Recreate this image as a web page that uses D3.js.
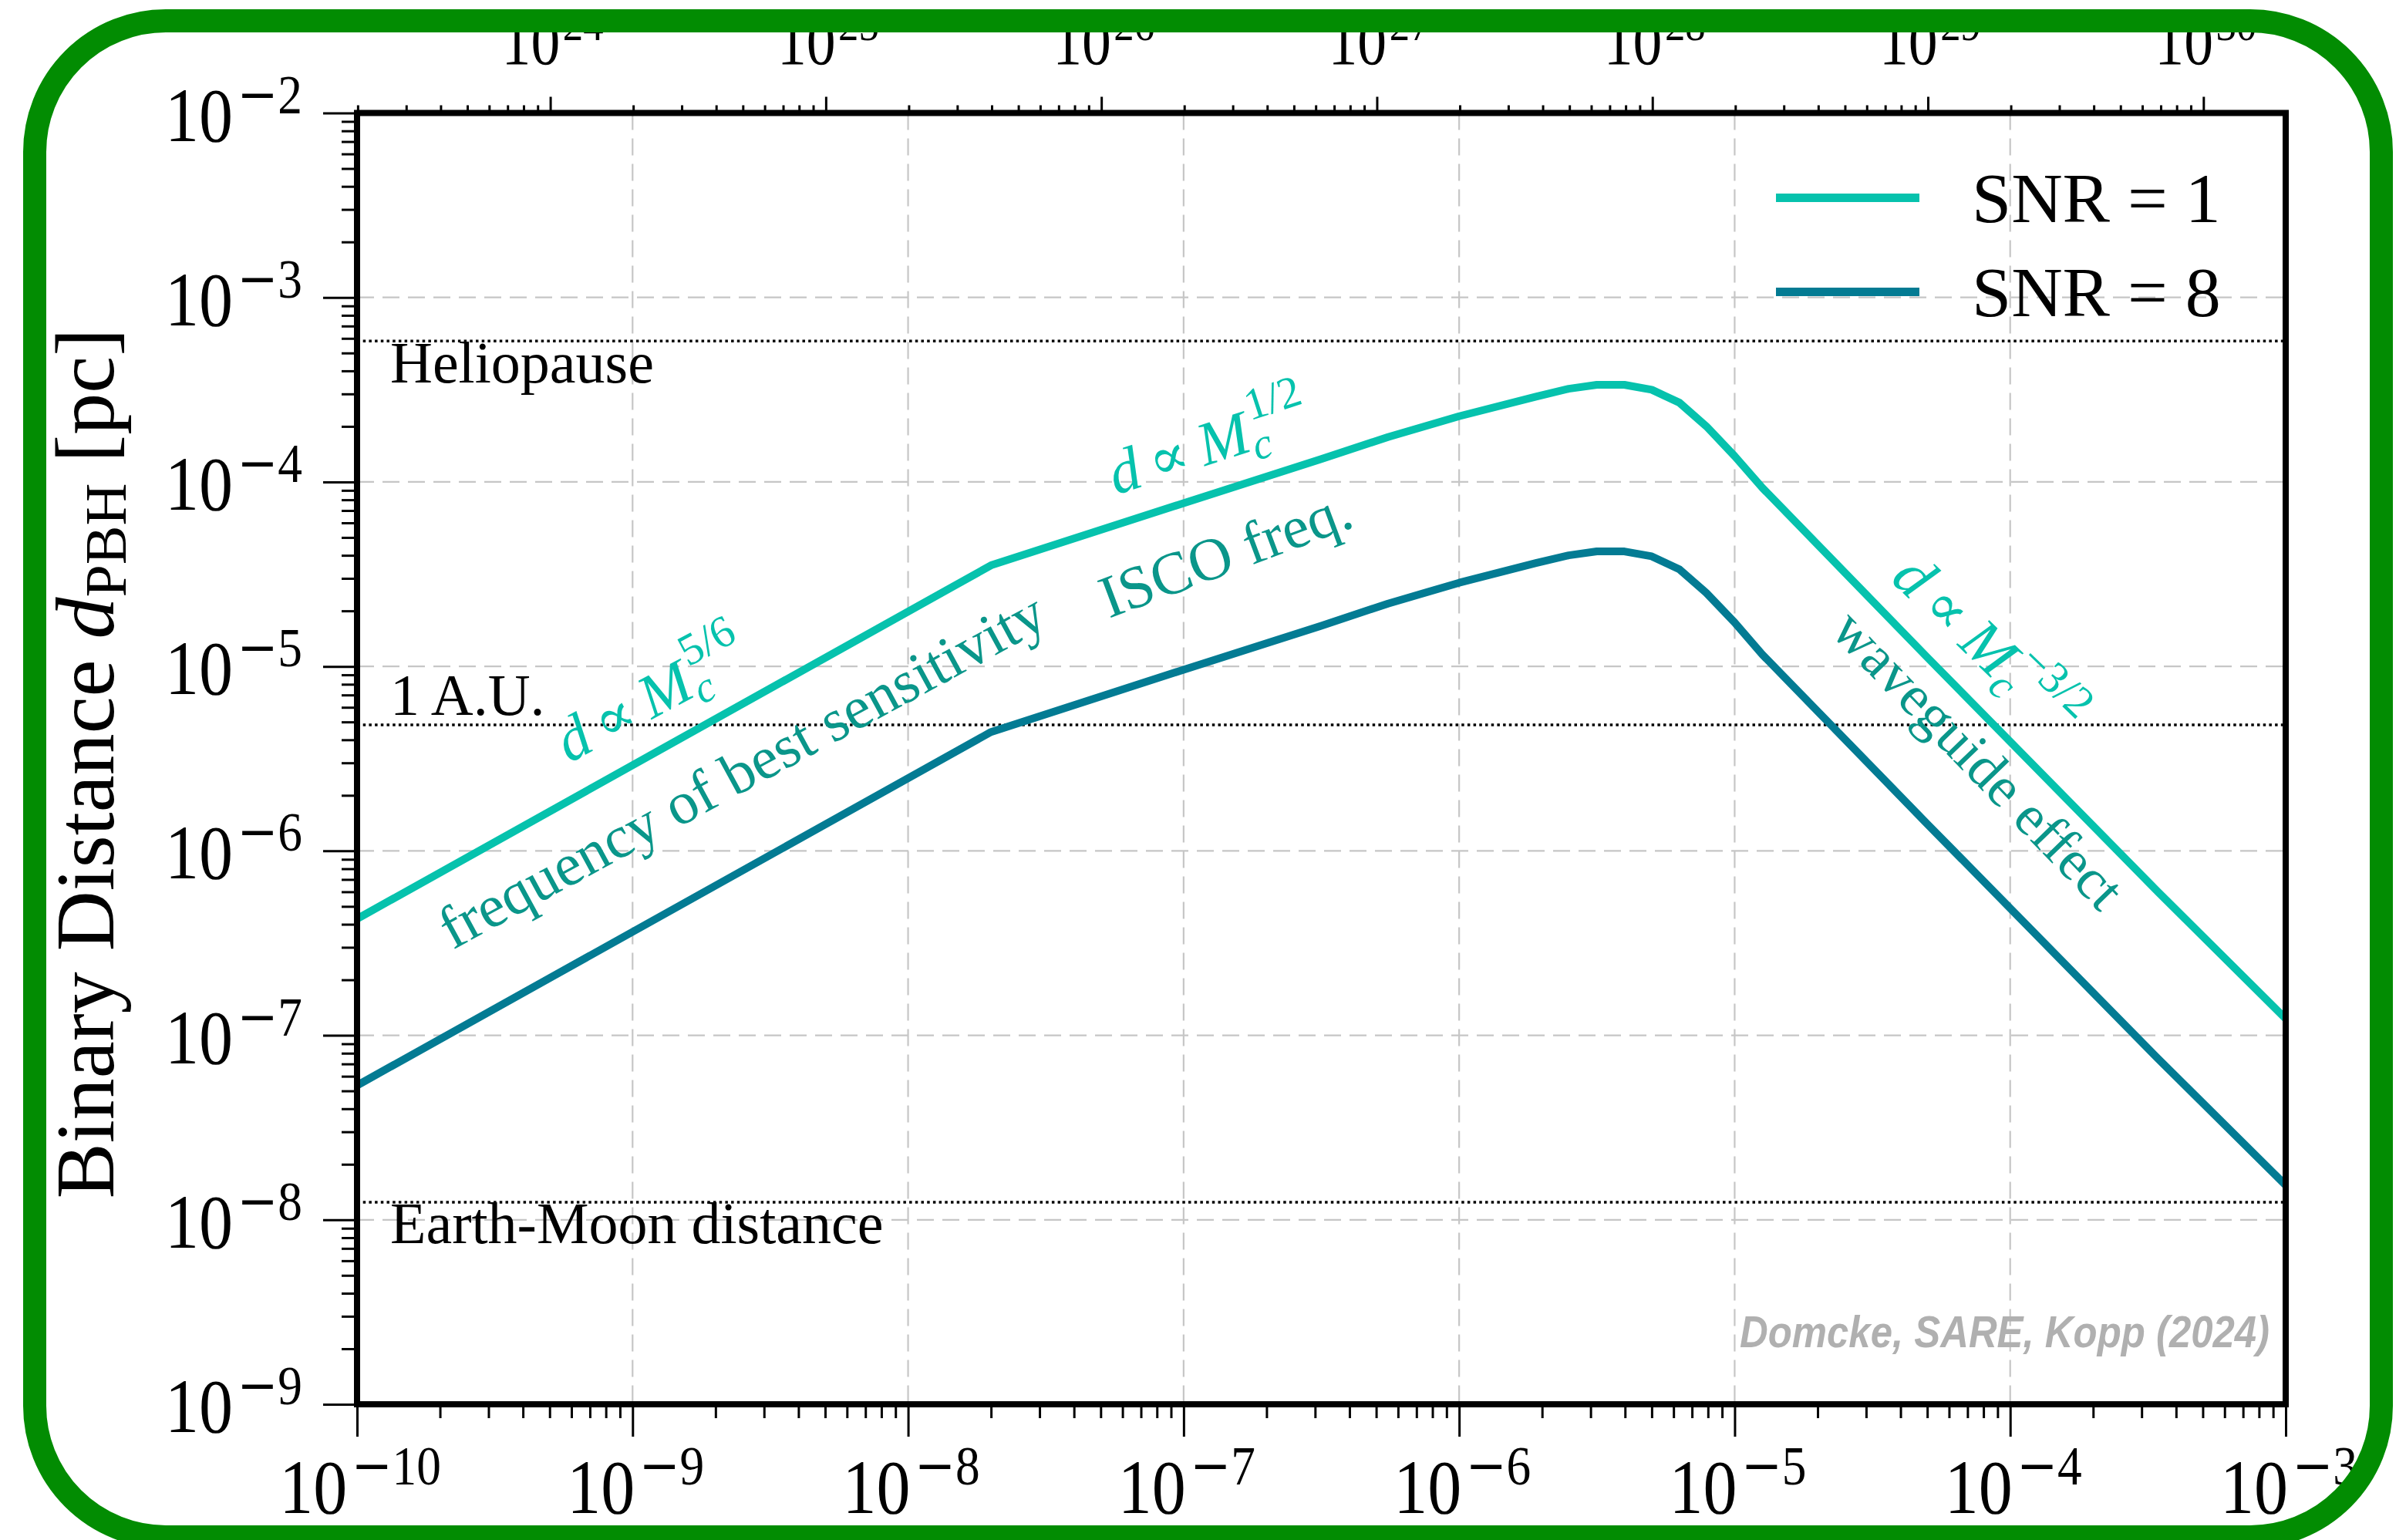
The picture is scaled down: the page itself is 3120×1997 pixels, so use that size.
<!DOCTYPE html>
<html>
<head>
<meta charset="utf-8">
<script src="https://cdn.jsdelivr.net/npm/d3@7"></script>
<style>
  html, body { margin: 0; padding: 0; background: #fff; }
  svg { display: block; }
  text { font-family: "Liberation Serif", "DejaVu Serif", serif; }
  .credit { font-family: "Liberation Sans", Arial, sans-serif; }
  .wide { font-family: "DejaVu Serif", serif; }
</style>
</head>
<body>
<svg id="chart" width="3120" height="1997"></svg>
<script>
// chirp mass (bottom axis, solar masses)
const mass = [1e-10, 2e-8, 1e-7, 3.16e-7, 5.52e-7, 1e-6, 1.9e-6, 2.5e-6, 3.16e-6, 3.98e-6,
              5.0e-6, 6.3e-6, 7.9e-6, 1.0e-5, 1.26e-5, 5.0e-5, 3.4e-4, 1e-3];
// binary distance in pc
const distSnr1 = [4.28e-7, 3.53e-5, 7.67e-5, 1.33e-4, 1.75e-4, 2.27e-4, 2.90e-4, 3.20e-4, 3.36e-4, 3.36e-4,
                  3.16e-4, 2.69e-4, 2.00e-4, 1.38e-4, 9.3e-5, 1.12e-5, 6.1e-7, 1.23e-7];
const distSnr8 = [5.35e-8, 4.41e-6, 9.6e-6, 1.66e-5, 2.19e-5, 2.84e-5, 3.63e-5, 4.0e-5, 4.2e-5, 4.2e-5,
                  3.95e-5, 3.36e-5, 2.5e-5, 1.73e-5, 1.16e-5, 1.40e-6, 7.6e-8, 1.54e-8];
const seriesNames = ['SNR = 1', 'SNR = 8'];
const seriesColors = ['#06c2ad', '#037b93'];

const xExponents = [-10, -9, -8, -7, -6, -5, -4, -3];
const yExponents = [-9, -8, -7, -6, -5, -4, -3, -2];
const topExponents = [24, 25, 26, 27, 28, 29, 30];
const gramsPerMsun = 1.989e33;

// reference distances (pc)
const refDistances = [5.8e-4, 4.82e-6, 1.246e-8];
const refNames = ['Heliopause', '1 A.U.', 'Earth-Moon distance'];

const svg = d3.select('#chart');
const plotL = 463, plotR = 2964, plotT = 146.5, plotB = 1821;

const x = d3.scaleLog().domain([1e-10, 1e-3]).range([plotL, plotR]);
const y = d3.scaleLog().domain([1e-9, 1e-2]).range([plotB, plotT]);
const xTop = d3.scaleLog().domain([1e-10 * gramsPerMsun, 1e-3 * gramsPerMsun]).range([plotL, plotR]);

const isDecade = v => Math.abs(Math.log10(v) - Math.round(Math.log10(v))) < 1e-6;

svg.append('rect').attr('width', 3120).attr('height', 1997).attr('fill', '#fff');

// grid
const grid = svg.append('g').attr('stroke', '#c6c6c6').attr('stroke-width', 2.2)
  .attr('stroke-dasharray', '22,11');
grid.selectAll('.gx').data(xExponents).join('line')
  .attr('x1', d => x(Math.pow(10, d))).attr('x2', d => x(Math.pow(10, d)))
  .attr('y1', plotT).attr('y2', plotB);
grid.selectAll('.gy').data(yExponents).join('line')
  .attr('y1', d => y(Math.pow(10, d))).attr('y2', d => y(Math.pow(10, d)))
  .attr('x1', plotL).attr('x2', plotR);

// reference lines
const refs = svg.append('g');
refs.selectAll('line').data(refDistances).join('line')
  .attr('x1', plotL).attr('x2', plotR)
  .attr('y1', d => y(d)).attr('y2', d => y(d))
  .attr('stroke', '#000').attr('stroke-width', 3.5).attr('stroke-dasharray', '3.5,4.2');
refs.selectAll('text').data(refNames).join('text')
  .attr('x', 506)
  .attr('y', (d, i) => [496, 927, 1612][i])
  .attr('font-size', 76)
  .text(d => d);

// curves
svg.append('clipPath').attr('id', 'plotclip').append('rect')
  .attr('x', plotL).attr('y', plotT).attr('width', plotR - plotL).attr('height', plotB - plotT);
const line = d3.line().x(d => x(d[0])).y(d => y(d[1]));
const series = [distSnr1, distSnr8];
svg.append('g').attr('clip-path', 'url(#plotclip)')
  .selectAll('path').data(series).join('path')
  .attr('d', s => line(mass.map((m, i) => [m, s[i]])))
  .attr('fill', 'none')
  .attr('stroke', (d, i) => seriesColors[i])
  .attr('stroke-width', 10)
  .attr('stroke-linejoin', 'round');

// annotations
const lightText = '#06c2ad', darkText = '#0a968a';
function mathLabel(px, py, angle, color, superText) {
  const t = svg.append('text')
    .attr('transform', `translate(${px},${py}) rotate(${angle})`)
    .attr('font-size', 80).attr('fill', color);
  t.append('tspan').attr('font-style', 'italic').text('d');
  t.append('tspan').attr('class', 'wide').attr('font-size', 76).attr('dx', 14).text('\u221D');
  t.append('tspan').attr('font-style', 'italic').attr('dx', 16).text('M');
  t.append('tspan').attr('font-style', 'italic').attr('font-size', 56).attr('dy', 14).text('c');
  t.append('tspan').attr('font-size', 58).attr('dy', -52).attr('dx', -18).text(superText);
}
mathLabel(738, 990, -28, lightText, '5/6');
mathLabel(1447, 642, -18, lightText, '1/2');
mathLabel(2450, 752, 44, lightText, '\u22123/2');

svg.append('text')
  .attr('transform', 'translate(587,1232) rotate(-28.5)')
  .attr('font-size', 78).attr('fill', darkText)
  .text('frequency of best sensitivity');
svg.append('text')
  .attr('transform', 'translate(1438,802) rotate(-20.5)')
  .attr('font-size', 78).attr('fill', darkText)
  .text('ISCO freq.');
svg.append('text')
  .attr('transform', 'translate(2372,820) rotate(46)')
  .attr('font-size', 74).attr('fill', darkText)
  .text('waveguide effect');

// axes ticks
function tickAxis(axisFn, scale, size, values, transform) {
  const g = svg.append('g').attr('transform', transform)
    .call(axisFn(scale).tickValues(values).tickSize(size).tickSizeOuter(0).tickFormat(''));
  g.select('.domain').remove();
  g.selectAll('line').attr('stroke', '#000').attr('stroke-width', 3);
  return g;
}
const xAll = x.ticks(), yAll = y.ticks(), topAll = xTop.ticks();
tickAxis(d3.axisBottom, x, 18, xAll.filter(v => !isDecade(v)), `translate(0,${plotB})`);
tickAxis(d3.axisBottom, x, 42, xAll.filter(isDecade), `translate(0,${plotB})`);
tickAxis(d3.axisLeft, y, 20, yAll.filter(v => !isDecade(v)), `translate(${plotL},0)`);
tickAxis(d3.axisLeft, y, 44, yAll.filter(isDecade), `translate(${plotL},0)`);
tickAxis(d3.axisTop, xTop, 10, topAll.filter(v => !isDecade(v)), `translate(0,${plotT})`);
tickAxis(d3.axisTop, xTop, 21, topAll.filter(isDecade), `translate(0,${plotT})`);

// spines
svg.append('rect').attr('x', plotL).attr('y', plotT)
  .attr('width', plotR - plotL).attr('height', plotB - plotT)
  .attr('fill', 'none').attr('stroke', '#000').attr('stroke-width', 8);

// tick labels: 10 with a superscript exponent
function powerLabel(sel, sup, shift) {
  sel.append('tspan').text('10');
  sel.filter(d => d < 0).append('tspan').attr('class', 'wide').attr('font-size', sup)
    .attr('dx', 6).attr('dy', -shift).text('\u2212');
  sel.append('tspan').attr('font-size', sup)
    .attr('dx', d => d < 0 ? 0 : 4).attr('dy', d => d < 0 ? 0 : -shift)
    .text(d => Math.abs(d));
}
const bl = svg.append('g').selectAll('text').data(xExponents).join('text')
  .attr('transform', d => `translate(${x(Math.pow(10, d)) + 4},1962) scale(0.88,1)`)
  .attr('text-anchor', 'middle').attr('font-size', 100);
powerLabel(bl, 72, 37);

const ll = svg.append('g').selectAll('text').data(yExponents).join('text')
  .attr('transform', d => `translate(392,${y(Math.pow(10, d)) + 36}) scale(0.88,1)`)
  .attr('text-anchor', 'end').attr('font-size', 100);
powerLabel(ll, 72, 36);

const tl = svg.append('g').selectAll('text').data(topExponents).join('text')
  .attr('transform', d => `translate(${xTop(Math.pow(10, d)) + 3},83) scale(0.88,1)`)
  .attr('text-anchor', 'middle').attr('font-size', 86);
powerLabel(tl, 60, 31);

// y axis title
const yt = svg.append('text')
  .attr('transform', 'translate(147,990) rotate(-90)')
  .attr('text-anchor', 'middle').attr('font-size', 108);
yt.append('tspan').text('Binary Distance ');
yt.append('tspan').attr('font-style', 'italic').text('d');
yt.append('tspan').attr('font-size', 76).attr('dy', 16).text('PBH');
yt.append('tspan').attr('dy', -16).text(' [pc]');

// legend
const legend = svg.append('g');
seriesNames.forEach((name, i) => {
  const ly = 256.5 + i * 122;
  legend.append('line').attr('x1', 2303).attr('x2', 2489).attr('y1', ly).attr('y2', ly)
    .attr('stroke', seriesColors[i]).attr('stroke-width', 11);
  legend.append('text').attr('x', 2557).attr('y', ly + 31).attr('font-size', 92).text(name);
});

// credit
svg.append('text')
  .attr('class', 'credit')
  .attr('x', 2943).attr('y', 1747).attr('text-anchor', 'end')
  .attr('font-style', 'italic').attr('font-weight', 'bold')
  .attr('font-size', 58).attr('fill', '#b0b0b0')
  .attr('textLength', 687).attr('lengthAdjust', 'spacingAndGlyphs')
  .text('Domcke, SARE, Kopp (2024)');

// green frame
svg.append('rect').attr('x', 45).attr('y', 27).attr('width', 3043).attr('height', 1966)
  .attr('rx', 170).attr('ry', 170)
  .attr('fill', 'none').attr('stroke', '#028c02').attr('stroke-width', 30);
</script>
</body>
</html>
